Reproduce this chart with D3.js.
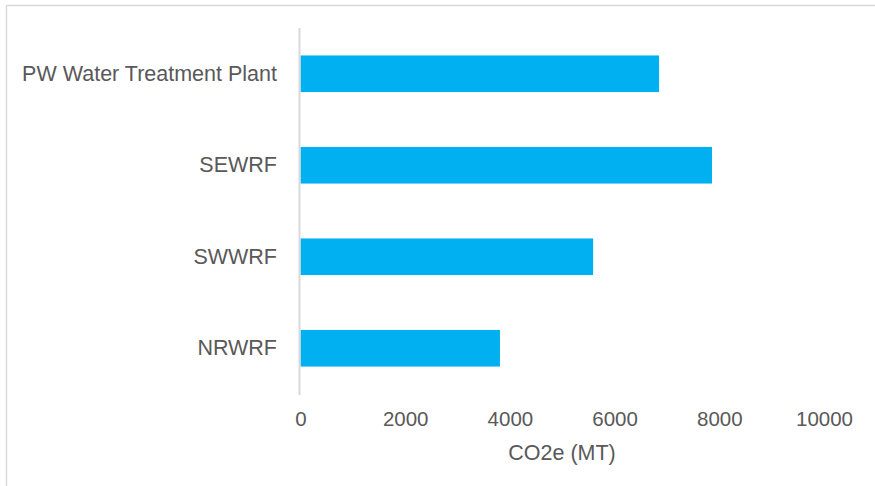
<!DOCTYPE html>
<html><head><meta charset="utf-8">
<script src="https://cdn.jsdelivr.net/npm/d3@7"></script>
<style>html,body{margin:0;padding:0;background:#fff;}svg{display:block;}</style>
</head><body>
<script>
const categories = ["PW Water Treatment Plant", "SEWRF", "SWWRF", "NRWRF"];
const values = [6850, 7860, 5590, 3810];
const xTicks = [0, 2000, 4000, 6000, 8000, 10000];
const xTitle = "CO2e (MT)";

const W = 875, H = 486;
const svg = d3.select("body").append("svg").attr("width", W).attr("height", H);
svg.append("rect").attr("x", 6.5).attr("y", 5.5).attr("width", W).attr("height", H)
  .attr("fill", "#fff").attr("stroke", "#d9d9d9").attr("stroke-width", 1.5);

const x = d3.scaleLinear().domain([0, 10000]).range([300.5, 824]);
const y = d3.scaleBand().domain(categories).range([28, 394]).paddingInner(0.6).paddingOuter(0.3);
const font = "'Liberation Sans', Arial, sans-serif";
const txt = "#595959";

svg.append("g").selectAll("rect").data(values).join("rect")
  .attr("x", x(0)).attr("y", (d, i) => y(categories[i]))
  .attr("width", d => x(d) - x(0)).attr("height", y.bandwidth())
  .attr("fill", "#00b0f0");

svg.append("line").attr("x1", 299.5).attr("x2", 299.5).attr("y1", 28).attr("y2", 395)
  .attr("stroke", "#d9d9d9").attr("stroke-width", 2);

const xa = svg.append("g").attr("transform", "translate(0,395)")
  .call(d3.axisBottom(x).tickValues(xTicks).tickSize(0).tickPadding(16).tickFormat(d3.format("d")));
xa.select(".domain").remove();
xa.selectAll("text").attr("font-family", font).attr("font-size", 20.5).attr("fill", txt);

const ya = svg.append("g").attr("transform", "translate(277,0)")
  .call(d3.axisLeft(y).tickSize(0).tickPadding(0));
ya.select(".domain").remove();
ya.selectAll("text").attr("font-family", font).attr("font-size", 21.5).attr("fill", txt);

svg.append("text").attr("x", 562).attr("y", 460).attr("text-anchor", "middle")
  .attr("font-family", font).attr("font-size", 21.5).attr("fill", txt).text(xTitle);
</script>
</body></html>
